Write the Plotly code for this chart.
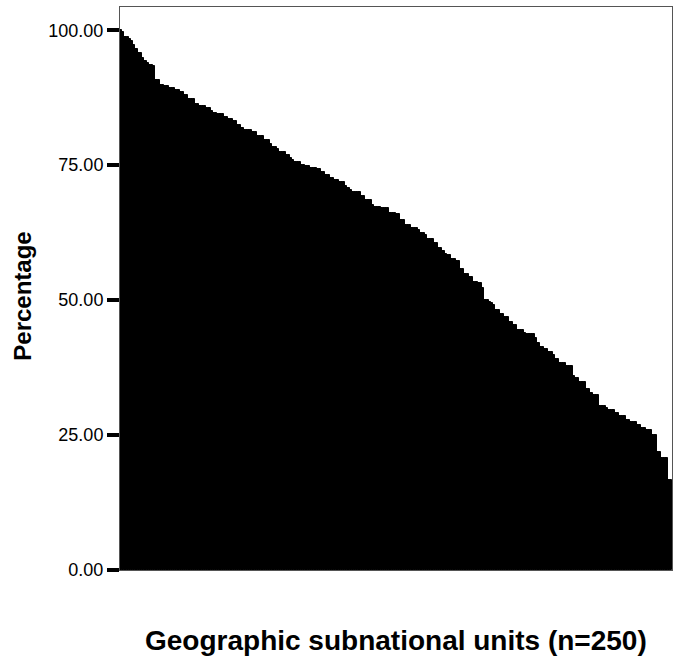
import plotly.graph_objects as go

# Geographic subnational units, sorted by percentage (descending)
units = list(range(1, 251))
percentages = [
    100.0, 99.6, 98.8, 98.8, 98.3, 98.0, 97.2, 96.6, 95.7, 95.7,
    94.8, 94.3, 94.0, 93.6, 93.6, 93.3, 90.7, 90.7, 89.9, 89.9,
    89.6, 89.6, 89.3, 89.3, 89.3, 88.9, 88.9, 88.6, 88.6, 88.0,
    88.0, 87.2, 87.2, 87.2, 86.4, 86.4, 86.0, 86.0, 86.0, 85.6,
    85.6, 85.0, 84.6, 84.6, 84.4, 84.4, 84.4, 83.9, 83.9, 83.6,
    83.6, 83.1, 83.1, 82.5, 82.5, 81.9, 81.5, 81.5, 81.5, 81.5,
    81.2, 81.2, 80.4, 80.4, 80.4, 79.6, 79.6, 79.6, 79.0, 78.4,
    78.4, 78.0, 77.4, 77.4, 77.4, 76.9, 76.9, 76.4, 75.9, 75.5,
    75.5, 75.5, 75.1, 75.1, 74.8, 74.8, 74.5, 74.5, 74.5, 74.2,
    74.2, 73.8, 73.8, 73.1, 73.1, 72.6, 72.6, 72.2, 72.2, 71.8,
    71.8, 71.8, 71.2, 70.7, 70.4, 70.1, 70.1, 70.1, 70.1, 69.3,
    69.3, 68.5, 68.5, 68.5, 67.7, 67.3, 67.3, 67.3, 67.0, 67.0,
    67.0, 67.0, 66.2, 66.2, 66.2, 65.9, 65.9, 64.8, 64.8, 64.0,
    64.0, 64.0, 63.3, 63.3, 63.3, 63.0, 62.5, 62.5, 62.0, 61.4,
    61.4, 61.4, 60.5, 60.5, 59.6, 59.6, 59.1, 58.5, 58.3, 58.3,
    57.7, 57.7, 57.3, 57.3, 55.7, 55.7, 54.9, 54.9, 54.2, 54.2,
    53.4, 53.4, 53.1, 53.1, 52.2, 50.0, 50.0, 49.7, 49.4, 49.1,
    48.1, 48.1, 47.4, 47.4, 46.8, 46.8, 46.0, 46.0, 45.4, 45.4,
    44.4, 44.4, 44.4, 43.9, 43.7, 43.7, 43.7, 43.7, 42.9, 42.0,
    41.4, 41.4, 40.9, 40.9, 40.4, 40.4, 39.8, 39.0, 39.0, 38.4,
    38.4, 38.4, 37.8, 37.8, 37.8, 35.9, 35.5, 35.5, 34.9, 34.9,
    34.9, 33.6, 33.6, 32.7, 32.4, 32.4, 32.4, 30.4, 30.4, 30.4,
    30.1, 29.6, 29.6, 29.6, 29.0, 29.0, 28.5, 28.5, 28.5, 27.8,
    27.8, 27.5, 27.5, 27.5, 26.9, 26.9, 26.4, 26.4, 25.9, 25.9,
    25.9, 25.0, 25.0, 21.9, 21.9, 20.7, 20.7, 20.7, 16.7, 16.7,
]
y_ticks = [0, 25, 50, 75, 100]
y_tick_labels = ["0.00", "25.00", "50.00", "75.00", "100.00"]

fig = go.Figure(
    go.Bar(
        x=units,
        y=percentages,
        marker=dict(color="black", line=dict(width=1, color="black")),
        hoverinfo="x+y",
    )
)

fig.update_layout(
    width=674,
    height=661,
    autosize=False,
    margin=dict(l=120, r=1, t=7, b=91),
    paper_bgcolor="white",
    plot_bgcolor="white",
    bargap=0,
    showlegend=False,
    font=dict(family="Liberation Sans, Arial, sans-serif", color="black", size=18),
    annotations=[
        dict(
            text="<b>Percentage</b>",
            xref="paper", yref="paper",
            x=-0.177, y=0.486,
            textangle=-90,
            showarrow=False,
            font=dict(size=24, color="black"),
            xanchor="center", yanchor="middle",
        ),
        dict(
            text="<b>Geographic subnational units (n=250)</b>",
            xref="paper", yref="paper",
            x=0.5, y=-0.126,
            showarrow=False,
            font=dict(size=28, color="black"),
            xanchor="center", yanchor="middle",
        ),
    ],
)

fig.update_xaxes(
    range=[0.5, 250.5],
    showticklabels=False,
    ticks="",
    showgrid=False,
    zeroline=False,
    showline=True,
    linecolor="#555555",
    linewidth=1,
    mirror=True,
    layer="below traces",
)

fig.update_yaxes(
    range=[0, 104.3],
    tickmode="array",
    tickvals=y_ticks,
    ticktext=y_tick_labels,
    ticks="outside",
    ticklen=12,
    tickwidth=4,
    tickcolor="black",
    tickfont=dict(size=18, color="black"),
    showgrid=False,
    zeroline=False,
    showline=True,
    linecolor="#555555",
    linewidth=1,
    mirror=True,
    layer="below traces",
)

post = (
    "document.body.style.margin='0';"
    "document.body.style.padding='0';"
    "document.body.style.overflow='hidden';"
    "var gd=document.getElementById('{plot_id}');"
    "Plotly.relayout(gd,{width:674,height:661});"
)

fig.write_html(
    "out.html",
    config={"responsive": False, "displayModeBar": False},
    post_script=post,
)
